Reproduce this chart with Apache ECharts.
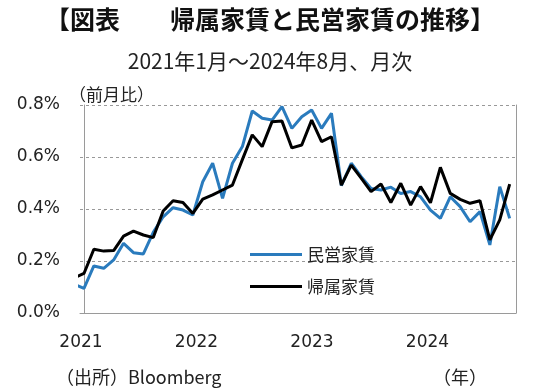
<!DOCTYPE html>
<html>
<head>
<meta charset="utf-8">
<script src="https://cdn.jsdelivr.net/npm/echarts@6/dist/echarts.min.js"></script>
<style>
html,body{margin:0;padding:0;background:#fff;}
#c{width:540px;height:392px;}
</style>
</head>
<body>
<div id="c"></div>
<script>
// Months (first entry is Dec 2020, only partly visible at the left edge)
const months = ['2020-12',
  '2021-01','2021-02','2021-03','2021-04','2021-05','2021-06','2021-07','2021-08','2021-09','2021-10','2021-11','2021-12',
  '2022-01','2022-02','2022-03','2022-04','2022-05','2022-06','2022-07','2022-08','2022-09','2022-10','2022-11','2022-12',
  '2023-01','2023-02','2023-03','2023-04','2023-05','2023-06','2023-07','2023-08','2023-09','2023-10','2023-11','2023-12',
  '2024-01','2024-02','2024-03','2024-04','2024-05','2024-06','2024-07','2024-08'];

// 民営家賃 (前月比, %)
const privateRent = [0.11,
  0.095,0.181,0.172,0.204,0.268,0.232,0.227,0.31,0.37,0.405,0.396,0.377,
  0.505,0.576,0.441,0.576,0.64,0.777,0.749,0.742,0.794,0.71,0.755,0.781,
  0.71,0.768,0.49,0.576,0.524,0.479,0.473,0.484,0.46,0.467,0.447,0.396,
  0.364,0.447,0.409,0.351,0.39,0.262,0.486,0.364];

// 帰属家賃 (前月比, %)
const imputedRent = [0.135,
  0.152,0.245,0.238,0.24,0.296,0.315,0.30,0.29,0.392,0.432,0.425,0.383,
  0.438,0.454,0.473,0.492,0.59,0.685,0.64,0.736,0.738,0.635,0.646,0.742,
  0.659,0.678,0.492,0.569,0.519,0.467,0.496,0.425,0.499,0.415,0.486,0.424,
  0.56,0.46,0.437,0.422,0.432,0.281,0.358,0.496];

const yearLabels = ['2021','2022','2023','2024'];
const seriesNames = ['民営家賃','帰属家賃'];

const toPairs = arr => arr.map((v, i) => [i - 1, v]);

const FONT = '"Noto Sans CJK JP","Noto Sans",sans-serif';
const NUMFONT = '"DejaVu Sans",sans-serif';
const chart = echarts.init(document.getElementById('c'), null, {renderer:'canvas'});
chart.setOption({
  animation: false,
  backgroundColor: '#fff',
  textStyle: {fontFamily: FONT},
  title: [
    {text: '【図表　　帰属家賃と民営家賃の推移】', left: 'center', top: 2,
     textStyle: {fontSize: 25, fontWeight: 'bold', color: '#111', fontFamily: FONT}},
    {text: '2021年1月～2024年8月、月次', left: 'center', top: 46,
     textStyle: {fontSize: 21, fontWeight: 'normal', color: '#222', fontFamily: FONT}},
    {text: '（前月比）', left: 64, top: 81,
     textStyle: {fontSize: 17, fontWeight: 'normal', color: '#222', fontFamily: FONT}},
    {text: '（出所）Bloomberg', left: 51, top: 363,
     textStyle: {fontSize: 18, fontWeight: 'normal', color: '#222', fontFamily: FONT}},
    {text: '（年）', left: 428, top: 363,
     textStyle: {fontSize: 18, fontWeight: 'normal', color: '#222', fontFamily: FONT}}
  ],
  legend: {
    orient: 'vertical', left: 245, top: 241, itemWidth: 52, itemHeight: 3, itemGap: 15,
    textStyle: {fontSize: 17, color: '#222', fontFamily: FONT, padding: [0, 0, 0, 0]},
    data: [{name: seriesNames[0], icon: 'rect'}, {name: seriesNames[1], icon: 'rect'}]
  },
  grid: [
    {left: 80, top: 105, right: 24, bottom: 79, containLabel: false},
    {left: 81, top: 105, width: 346.5, height: 208, show: false}
  ],
  xAxis: [{
    type: 'value', min: -0.4, max: 43.64, gridIndex: 0,
    axisLine: {show: true, lineStyle: {color: '#9a9a9a', width: 1}},
    axisTick: {show: false},
    splitLine: {show: false},
    axisLabel: {show: false}
  }, {
    type: 'value', min: 0, max: 3, interval: 1, gridIndex: 1,
    axisLine: {show: false}, axisTick: {show: false}, splitLine: {show: false},
    axisLabel: {formatter: v => yearLabels[v] || '', fontSize: 17, color: '#222', margin: 21, fontFamily: NUMFONT}
  }],
  yAxis: [{
    type: 'value', min: 0, max: 0.8, interval: 0.2, gridIndex: 0,
    axisLine: {show: true, lineStyle: {color: '#9a9a9a', width: 1}},
    axisTick: {show: false},
    splitLine: {show: true, lineStyle: {color: '#999', type: [3, 3], width: 1}},
    axisLabel: {formatter: v => v.toFixed(1) + '%', fontSize: 17, color: '#222', margin: 20, fontFamily: NUMFONT}
  }, {
    type: 'value', min: 0, max: 0.8, interval: 0.2, position: 'right', gridIndex: 0,
    axisLine: {show: true, lineStyle: {color: '#9a9a9a', width: 1}},
    axisTick: {show: false}, axisLabel: {show: false}, splitLine: {show: false}
  }, {
    type: 'value', min: 0, max: 1, gridIndex: 1, show: false
  }],
  series: [
    {name: seriesNames[0], type: 'line', data: toPairs(privateRent), symbol: 'none',
     lineStyle: {color: '#2a7bbd', width: 3}, itemStyle: {color: '#2a7bbd'}, z: 2},
    {name: seriesNames[1], type: 'line', data: toPairs(imputedRent), symbol: 'none',
     lineStyle: {color: '#000', width: 3}, itemStyle: {color: '#000'}, z: 3}
  ]
});
</script>
</body>
</html>
